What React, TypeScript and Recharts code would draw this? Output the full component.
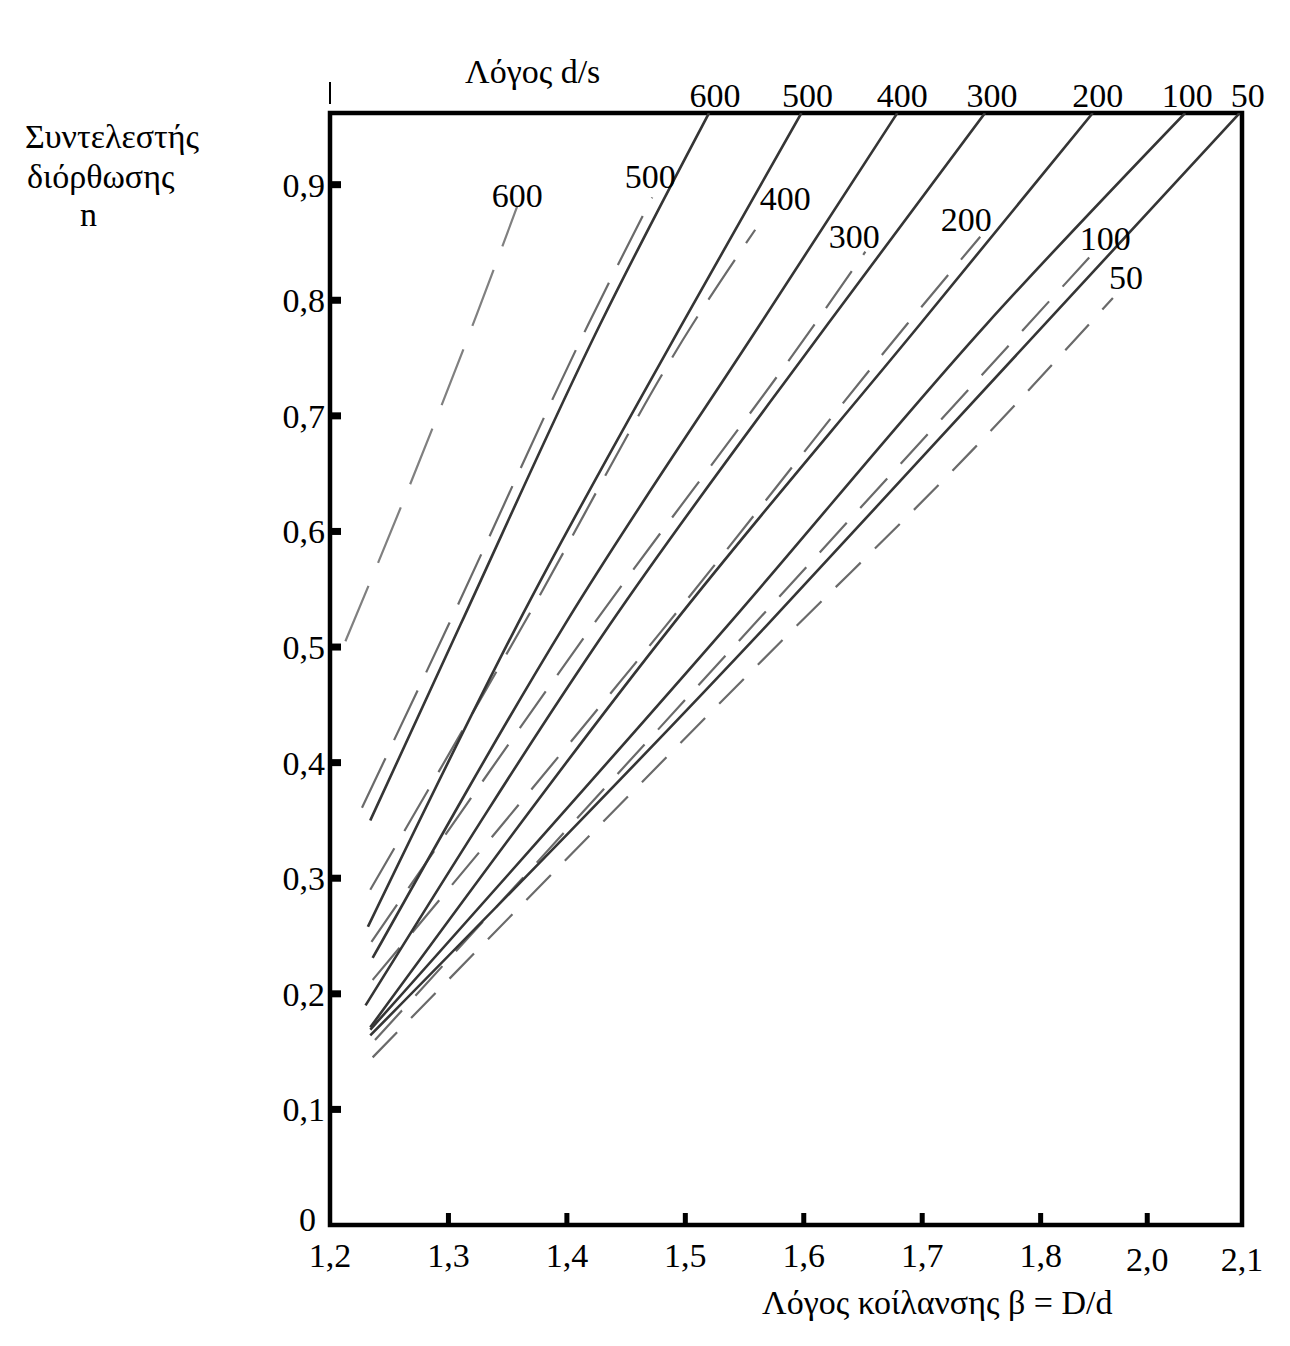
import React from 'react'
import { LineChart, Line, XAxis, YAxis, ReferenceArea } from 'recharts'

// x = β = D/d. Past 1,8 the source axis is unevenly spaced, so the last two
// ticks sit where the drawing has them (2,0 and 2,1).
const xTicks = [1.2, 1.3, 1.4, 1.5, 1.6, 1.7, 1.8, 1.89, 1.97]
const xTickLabels = ['1,2', '1,3', '1,4', '1,5', '1,6', '1,7', '1,8', '2,0', '2,1']
const yTicks = [0, 0.1, 0.2, 0.3, 0.4, 0.5, 0.6, 0.7, 0.8, 0.9]
const yTickLabels = ['0', '0,1', '0,2', '0,3', '0,4', '0,5', '0,6', '0,7', '0,8', '0,9']

const ratios = ['600', '500', '400', '300', '200', '100', '50']

// solid curves (ends at top edge)
const solid600 = [{ b: 1.234, n: 0.350 }, { b: 1.310, n: 0.519 }, { b: 1.428, n: 0.779 }, { b: 1.520, n: 0.962 }]
const solid500 = [{ b: 1.232, n: 0.258 }, { b: 1.358, n: 0.519 }, { b: 1.497, n: 0.779 }, { b: 1.598, n: 0.962 }]
const solid400 = [{ b: 1.236, n: 0.231 }, { b: 1.398, n: 0.519 }, { b: 1.563, n: 0.779 }, { b: 1.679, n: 0.962 }]
const solid300 = [{ b: 1.230, n: 0.190 }, { b: 1.436, n: 0.519 }, { b: 1.620, n: 0.779 }, { b: 1.753, n: 0.962 }]
const solid200 = [{ b: 1.234, n: 0.171 }, { b: 1.489, n: 0.519 }, { b: 1.698, n: 0.779 }, { b: 1.844, n: 0.962 }]
const solid100 = [{ b: 1.234, n: 0.169 }, { b: 1.536, n: 0.519 }, { b: 1.754, n: 0.779 }, { b: 1.922, n: 0.962 }]
const solid50 = [{ b: 1.234, n: 0.164 }, { b: 1.569, n: 0.519 }, { b: 1.706, n: 0.671 }, { b: 1.968, n: 0.962 }]

// dashed curves
const dashed600 = [{ b: 1.213, n: 0.505 }, { b: 1.263, n: 0.629 }, { b: 1.324, n: 0.788 }, { b: 1.358, n: 0.881 }]
const dashed500 = [{ b: 1.227, n: 0.361 }, { b: 1.300, n: 0.519 }, { b: 1.418, n: 0.779 }, { b: 1.472, n: 0.889 }]
const dashed400 = [{ b: 1.234, n: 0.290 }, { b: 1.363, n: 0.519 }, { b: 1.506, n: 0.779 }, { b: 1.559, n: 0.861 }]
const dashed300 = [{ b: 1.235, n: 0.245 }, { b: 1.422, n: 0.519 }, { b: 1.609, n: 0.779 }, { b: 1.652, n: 0.842 }]
const dashed200 = [{ b: 1.236, n: 0.212 }, { b: 1.484, n: 0.519 }, { b: 1.687, n: 0.779 }, { b: 1.749, n: 0.855 }]
const dashed100 = [{ b: 1.238, n: 0.160 }, { b: 1.594, n: 0.560 }, { b: 1.841, n: 0.837 }]
const dashed50 = [{ b: 1.236, n: 0.145 }, { b: 1.580, n: 0.504 }, { b: 1.743, n: 0.671 }, { b: 1.861, n: 0.802 }]

const solidSeries = [solid600, solid500, solid400, solid300, solid200, solid100, solid50]
const dashedSeries = [dashed600, dashed500, dashed400, dashed300, dashed200, dashed100, dashed50]

// label nudges (px) from the end of each curve
const solidLabelDx = [6, 6, 5, 7, 5, 2, 8]
const dashedLabelShift = [[0, 0], [-2, -9], [30, -20], [-11, -4], [-14, -6], [16, -7], [13, -9]]
const dashPatterns = ['60 25', '55 20', '48 20', '45 20', '42 20', '40 20', '35 20']

const FONT = "'Liberation Serif', 'Times New Roman', serif"

function YTick(props: any) {
  const { x, y, payload, index } = props
  const isZero = payload.value === 0
  return (
    <g>
      {!isZero && <rect x={x} y={y - 3.5} width={11} height={7} fill="#000" />}
      <text
        x={isZero ? x - 14 : x - 5}
        y={isZero ? y - 6 : y}
        dy="0.35em"
        textAnchor="end"
        fontSize={34}
        fontFamily={FONT}
        fill="#000"
      >
        {yTickLabels[index]}
      </text>
    </g>
  )
}

function XTick(props: any) {
  const { x, y, index } = props
  const low = index >= xTicks.length - 2 ? 4 : 0
  return (
    <g>
      {index > 0 && index < xTicks.length - 1 && (
        <rect x={x - 2.5} y={y - 12} width={5} height={12} fill="#000" />
      )}
      <text x={x} y={y + 42 + low} textAnchor="middle" fontSize={34} fontFamily={FONT} fill="#000">
        {xTickLabels[index]}
      </text>
    </g>
  )
}

function endLabel(text: string, last: number, dx: number, dy: number, pinTop: boolean) {
  return (p: any) => {
    if (p.index !== last) return null
    return (
      <text
        key={text + dx}
        x={p.x + dx}
        y={pinTop ? p.y - 6 : p.y + dy}
        textAnchor="middle"
        fontSize={34}
        fontFamily={FONT}
        fill="#000"
      >
        {text}
      </text>
    )
  }
}

const textStyle: React.CSSProperties = {
  position: 'absolute',
  fontFamily: FONT,
  fontSize: 34,
  lineHeight: 1,
  color: '#000',
  whiteSpace: 'nowrap',
}

export default function App() {
  return (
    <div style={{ position: 'relative', width: 1274, height: 1330, background: '#fff' }}>
      <LineChart width={1274} height={1330} margin={{ top: 105, right: 40, bottom: 63, left: 252 }}>
        <XAxis
          type="number"
          dataKey="b"
          domain={[1.2, 1.97]}
          ticks={xTicks}
          interval={0}
          axisLine={false}
          tickLine={false}
          tickSize={0}
          tickMargin={0}
          height={50}
          tick={<XTick />}
          allowDataOverflow
        />
        <YAxis
          type="number"
          dataKey="n"
          domain={[0, 0.962]}
          ticks={yTicks}
          interval={0}
          axisLine={false}
          tickLine={false}
          tickSize={0}
          tickMargin={0}
          width={70}
          tick={<YTick />}
          allowDataOverflow
        />
        <ReferenceArea
          x1={1.2}
          x2={1.97}
          y1={0}
          y2={0.962}
          fill="none"
          stroke="#000"
          strokeWidth={4.5}
          ifOverflow="visible"
        />
        {dashedSeries.map((d, i) => (
          <Line
            key={'d' + i}
            data={d}
            dataKey="n"
            type="monotone"
            stroke={i === 0 ? '#808080' : '#6a6a6a'}
            strokeWidth={2.2}
            strokeDasharray={dashPatterns[i]}
            dot={false}
            activeDot={false}
            isAnimationActive={false}
            label={endLabel(ratios[i], d.length - 1, dashedLabelShift[i][0], dashedLabelShift[i][1], false)}
          />
        ))}
        {solidSeries.map((d, i) => (
          <Line
            key={'s' + i}
            data={d}
            dataKey="n"
            type="monotone"
            stroke="#353535"
            strokeWidth={2.6}
            dot={false}
            activeDot={false}
            isAnimationActive={false}
            label={endLabel(ratios[i], d.length - 1, solidLabelDx[i], 0, true)}
          />
        ))}
      </LineChart>

      <div style={{ position: 'absolute', left: 321, top: 74, width: 2, height: 22, background: '#000' }} />
      <div style={{ ...textStyle, left: 457, top: 47 }}>Λόγος d/s</div>
      <div style={{ ...textStyle, left: 17, top: 112 }}>Συντελεστής</div>
      <div style={{ ...textStyle, left: 19, top: 152 }}>διόρθωσης</div>
      <div style={{ ...textStyle, left: 72, top: 190 }}>n</div>
      <div style={{ ...textStyle, left: 754, top: 1278 }}>Λόγος κοίλανσης β = D/d</div>
    </div>
  )
}
